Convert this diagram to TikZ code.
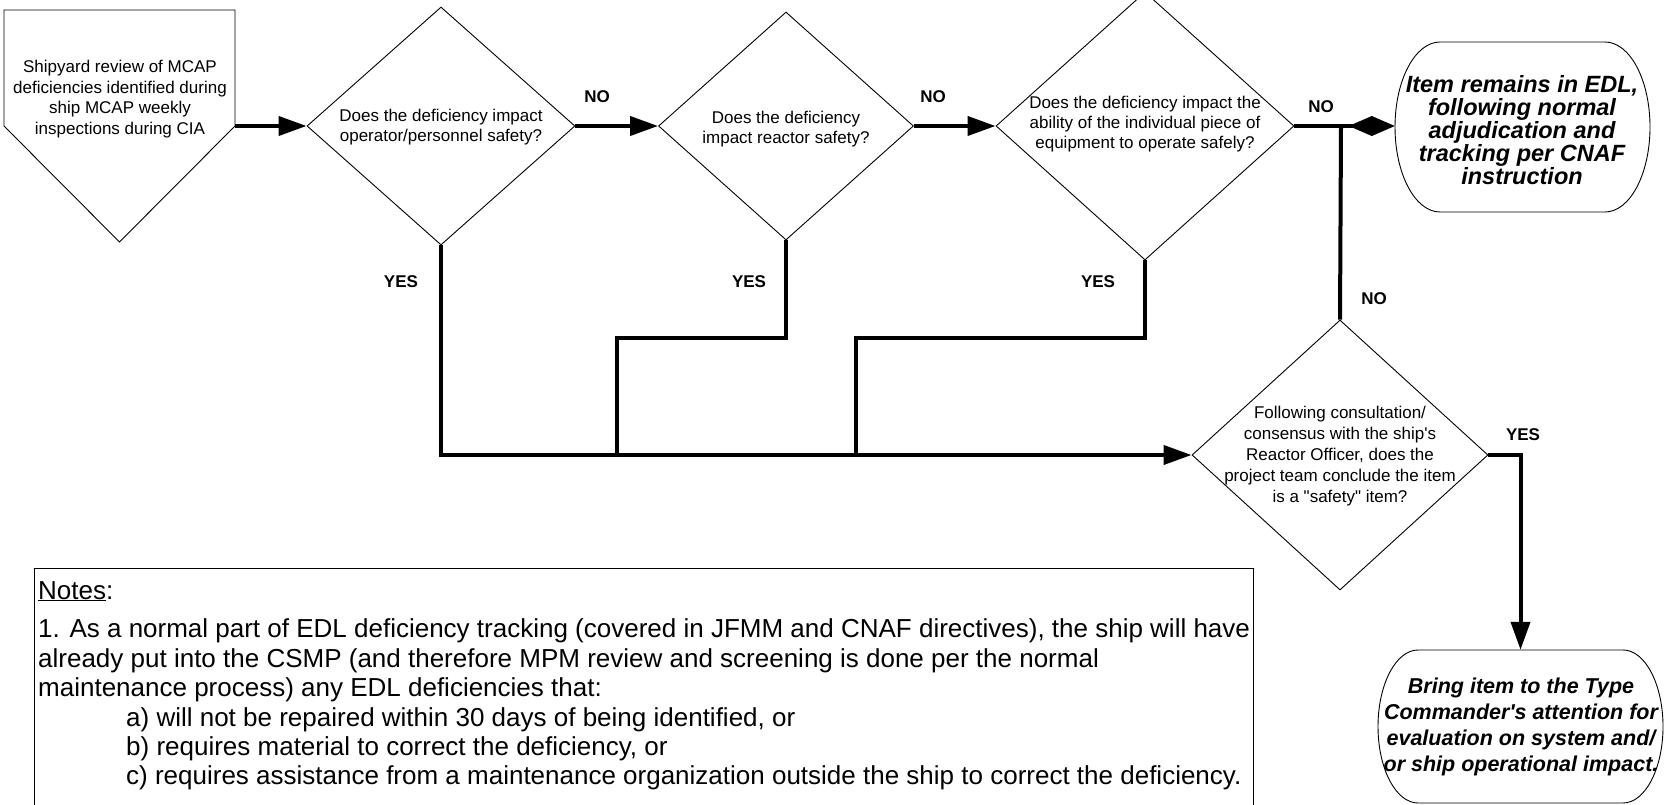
\documentclass[tikz,border=0pt]{standalone}
\usepackage{fontspec}
\setmainfont{Liberation Sans}[Ligatures=TeXOff]
\usetikzlibrary{shapes.geometric,arrows.meta,calc}
\begin{document}
\begin{tikzpicture}[x=1pt,y=-1pt,
  dia/.style={draw,line width=0.9pt,shape=diamond,inner sep=0pt},
  termbox/.style={rectangle,inner sep=0pt},
  outline/.style={line width=0.9pt},
  flow/.style={line width=4pt},
  arr/.style={flow,-{Triangle[length=28pt,width=19pt]}},
  txt/.style={align=center,inner sep=0pt,font=\fontsize{17}{20.5}\selectfont},
  lab/.style={inner sep=0pt,font=\fontsize{17}{20}\selectfont\bfseries},
  termtxt/.style={align=center,inner sep=0pt},
  note/.style={anchor=base west,inner sep=0pt,font=\fontsize{26}{30}\selectfont}
]
\useasboundingbox (0,0) rectangle (1665,805);
\clip (0,0) rectangle (1665,805);
\fill[white] (0,0) rectangle (1665,805);

% start shape
\draw[outline] (4,10) -- (235,10) -- (235,126) -- (119.5,242) -- (4,126) -- cycle;
\coordinate (pR) at (235,126);
\node[txt] (ptxt) at (120,99) {Shipyard review of MCAP\\deficiencies identified during\\ship MCAP weekly\\inspections during CIA};

% decisions
\node[dia,minimum width=268pt,minimum height=238pt] (d1) at (441,126) {};
\node[dia,minimum width=255pt,minimum height=228pt] (d2) at (786,126) {};
\node[dia,minimum width=298pt,minimum height=268pt] (d3) at (1145,126) {};
\node[dia,minimum width=296pt,minimum height=270pt] (d4) at (1340,455) {};

\node[txt] (d1t) at (441,127) {Does the deficiency impact\\operator/personnel safety?};
\node[txt] (d2t) at (786,129) {Does the deficiency\\impact reactor safety?};
\node[txt,font=\fontsize{17}{20}\selectfont] (d3t) at (1145,124) {Does the deficiency impact the\\ability of the individual piece of\\equipment to operate safely?};
\node[txt,font=\fontsize{17}{21}\selectfont] (d4t) at (1340,456) {Following consultation/\\consensus with the ship's\\Reactor Officer, does the\\project team conclude the item\\is a "safety" item?};

% terminators (anchor boxes + oval-cornered outlines)
\node[termbox,minimum width=255pt,minimum height=170pt] (t1) at (1522.5,127) {};
\draw[outline] (1440,42) -- (1605,42)
  .. controls (1629.9,42) and (1650,80.1) .. (1650,127)
  .. controls (1650,173.9) and (1629.9,212) .. (1605,212)
  -- (1440,212)
  .. controls (1415.1,212) and (1395,173.9) .. (1395,127)
  .. controls (1395,80.1) and (1415.1,42) .. (1440,42) -- cycle;
\node[termtxt,font=\fontsize{23.5}{23}\selectfont\bfseries\itshape] (t1t) at (1522,130) {Item remains in EDL,\\following normal\\adjudication and\\tracking per CNAF\\instruction};

\node[termbox,minimum width=285pt,minimum height=153pt] (t2) at (1520.5,726.5) {};
\draw[outline] (1418,650) -- (1623,650)
  .. controls (1645.1,650) and (1663,684.3) .. (1663,726.5)
  .. controls (1663,768.7) and (1645.1,803) .. (1623,803)
  -- (1418,803)
  .. controls (1395.9,803) and (1378,768.7) .. (1378,726.5)
  .. controls (1378,684.3) and (1395.9,650) .. (1418,650) -- cycle;
\node[termtxt,font=\fontsize{21.5}{25.8}\selectfont\bfseries\itshape] (t2t) at (1521,727) {Bring item to the Type\\Commander's attention for\\evaluation on system and/\\or ship operational impact.};

% connectors
\draw[arr] (pR) -- (d1.west);
\draw[arr] (d1.east) -- (d2.west);
\draw[arr] (d2.east) -- (d3.west);
\coordinate (J) at (1341,126);
\draw[flow,-{Diamond[length=46pt,width=20pt]}] (d3.east) -- (d3.east -| t1.west);
\draw[flow] (J) -- (d4.north);
\draw[arr] (d1.south) |- (d4.west);
\coordinate (k2) at (617,338);
\coordinate (s2) at (617,455);
\draw[flow] (d2.south) |- (k2) -- (s2);
\coordinate (k3) at (856,338);
\coordinate (s3) at (856,455);
\draw[flow] (d3.south) |- (k3) -- (s3);
\draw[arr] (d4.east) -| (t2.north);

% labels
\node[lab] (no1) at (597,97) {NO};
\node[lab] (no2) at (933,97) {NO};
\node[lab] (no3) at (1321,107) {NO};
\node[lab] (no4) at (1374,299) {NO};
\node[lab] (y1) at (401,282) {YES};
\node[lab] (y2) at (749,282) {YES};
\node[lab] (y3) at (1098,282) {YES};
\node[lab] (y4) at (1523,435) {YES};

% notes
\node[draw,line width=0.9pt,minimum width=1219pt,minimum height=270pt,anchor=north west,inner sep=0pt] (nb) at (34,568) {};
\node[note] (n0) at (38,599) {\underline{Notes}:};
\node[note] (n1) at (38,637.5) {1. As a normal part of EDL deficiency tracking (covered in JFMM and CNAF directives), the ship will have};
\node[note] (n2) at (38,667) {already put into the CSMP (and therefore MPM review and screening is done per the normal};
\node[note] (n3) at (38,696.5) {maintenance process) any EDL deficiencies that:};
\node[note] (n4) at (126,726) {a) will not be repaired within 30 days of being identified, or};
\node[note] (n5) at (126,755) {b) requires material to correct the deficiency, or};
\node[note] (n6) at (126,784.5) {c) requires assistance from a maintenance organization outside the ship to correct the deficiency.};
\end{tikzpicture}
\end{document}
